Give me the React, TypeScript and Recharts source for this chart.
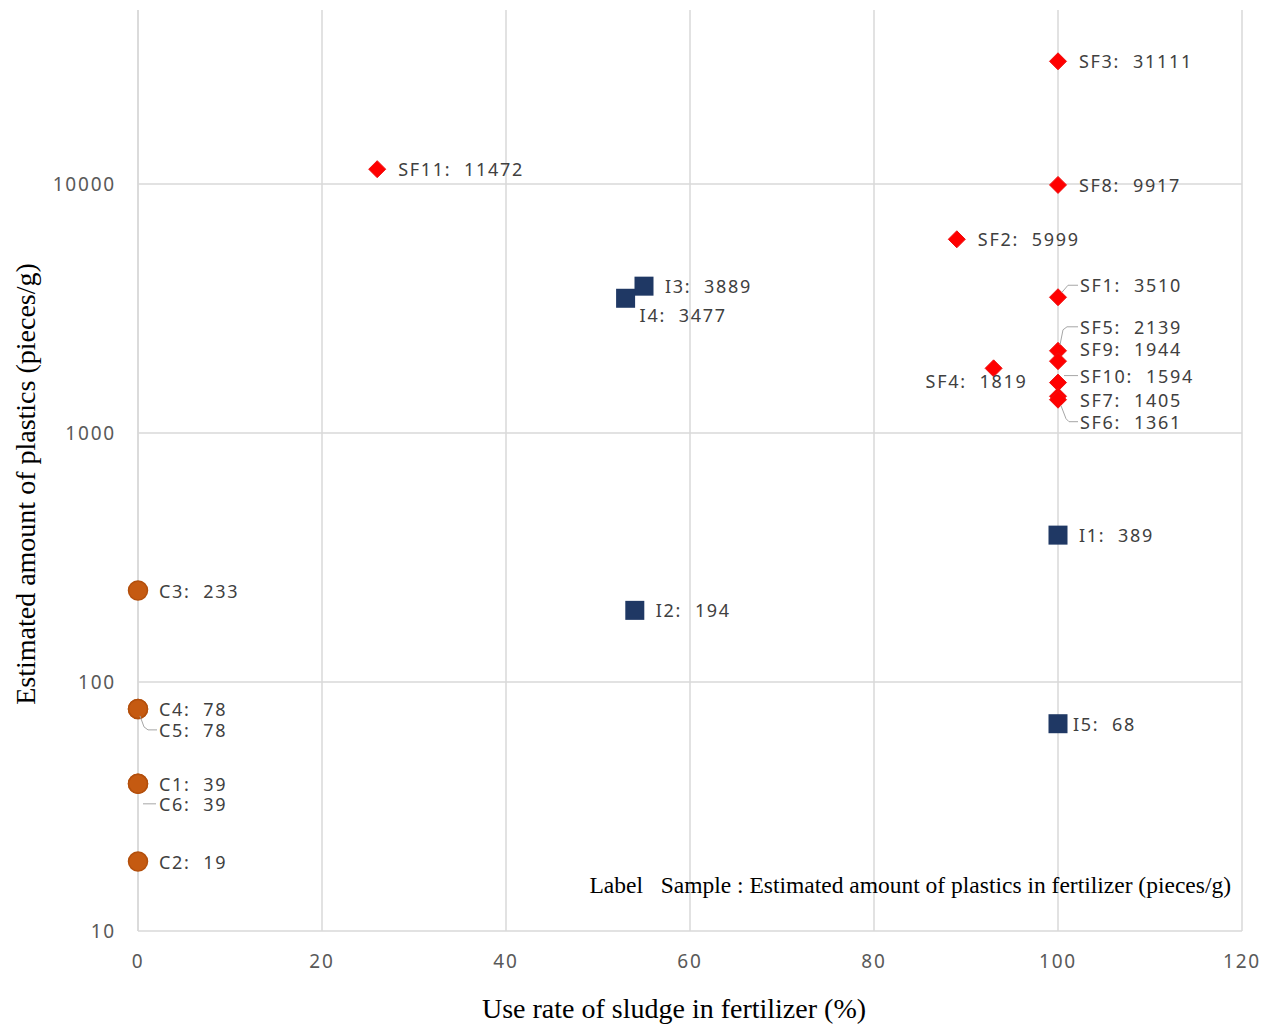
import React from 'react';
import { ScatterChart, Scatter, XAxis, YAxis, CartesianGrid, ReferenceLine } from 'recharts';

// Sewage-sludge fertilizers (SF), industrial (I) and compost (C) samples
const sfNames = ['SF3', 'SF11', 'SF8', 'SF2', 'SF1', 'SF5', 'SF9', 'SF4', 'SF10', 'SF7', 'SF6'];
const sfRate = [100, 26, 100, 89, 100, 100, 100, 93, 100, 100, 100];
const sfAmount = [31111, 11472, 9917, 5999, 3510, 2139, 1944, 1819, 1594, 1405, 1361];

const iNames = ['I3', 'I4', 'I1', 'I2', 'I5'];
const iRate = [55, 53, 100, 54, 100];
const iAmount = [3889, 3477, 389, 194, 68];

const cNames = ['C3', 'C4', 'C5', 'C1', 'C6', 'C2'];
const cRate = [0, 0, 0, 0, 0, 0];
const cAmount = [233, 78, 78, 39, 39, 19];

const xTicks = [0, 20, 40, 60, 80, 100, 120];
const yTicks = [10, 100, 1000, 10000];

type Pt = { name: string; x: number; y: number };
const build = (names: string[], xs: number[], ys: number[]): Pt[] =>
  names.map((name, i) => ({ name, x: xs[i], y: ys[i] }));

const sfData = build(sfNames, sfRate, sfAmount);
const iData = build(iNames, iRate, iAmount);
const cData = build(cNames, cRate, cAmount);

// where each data label sits relative to its marker, plus optional leader lines
type LabelPos = { dx: number; dy: number; leader?: [number, number][] };
const labelPos: Record<string, LabelPos> = {
  SF1: { dx: 22, dy: -12, leader: [[4, -5], [10, -12], [20, -12]] },
  SF5: { dx: 22, dy: -24, leader: [[2, -6], [5, -21], [9, -24], [20, -24]] },
  SF9: { dx: 22, dy: -12 },
  SF10: { dx: 22, dy: -7, leader: [[6, -7], [20, -7]] },
  SF7: { dx: 22, dy: 4 },
  SF6: { dx: 22, dy: 22, leader: [[3, 6], [8, 19], [11, 22], [20, 22]] },
  SF4: { dx: -68, dy: 13 },
  I4: { dx: 14, dy: 17 },
  I5: { dx: 15, dy: 0 },
  C5: { dx: 21, dy: 21, leader: [[2, 7], [6, 18], [10, 21], [19, 21]] },
  C6: { dx: 21, dy: 20, leader: [[5, 20], [18, 20]] },
};

const labelStyle: React.CSSProperties = {
  fontFamily: 'Noto Sans, sans-serif',
  fontSize: 18,
  letterSpacing: 1.7,
  fill: '#404040',
  whiteSpace: 'pre',
};

const DataLabel = ({ cx, cy, p }: { cx: number; cy: number; p: Pt }) => {
  const pos = labelPos[p.name] ?? { dx: 21, dy: 0 };
  return (
    <g>
      {pos.leader && (
        <polyline
          points={pos.leader.map(([a, b]) => `${cx + a},${cy + b}`).join(' ')}
          fill="none"
          stroke="#a6a6a6"
          strokeWidth={1}
        />
      )}
      <text x={cx + pos.dx} y={cy + pos.dy} dominantBaseline="central" style={labelStyle}>
        {`${p.name}:  ${p.y}`}
      </text>
    </g>
  );
};

const Diamond = (props: any) => {
  const { cx, cy, payload } = props;
  const r = 8.5;
  return (
    <g>
      <polygon
        points={`${cx},${cy - r} ${cx + r},${cy} ${cx},${cy + r} ${cx - r},${cy}`}
        fill="#ff0000"
        stroke="#ee1111"
      />
      <DataLabel cx={cx} cy={cy} p={payload} />
    </g>
  );
};

const Square = (props: any) => {
  const { cx, cy, payload } = props;
  const s = 19;
  return (
    <g>
      <rect x={cx - s / 2} y={cy - s / 2} width={s} height={s} fill="#1f3864" />
      <DataLabel cx={cx} cy={cy} p={payload} />
    </g>
  );
};

const Dot = (props: any) => {
  const { cx, cy, payload } = props;
  return (
    <g>
      <circle cx={cx} cy={cy} r={9.5} fill="#c55a11" stroke="#b34f0c" strokeWidth={1.5} />
      <DataLabel cx={cx} cy={cy} p={payload} />
    </g>
  );
};

const tickStyle = { fontFamily: 'Noto Sans, sans-serif', fontSize: 19, letterSpacing: 1.8, fill: '#595959' };
const serif = 'Liberation Serif, Times New Roman, serif';

export default function App() {
  return (
    <div style={{ position: 'absolute', left: 0, top: 0, width: 1271, height: 1025, background: '#fff' }}>
      <ScatterChart width={1271} height={1025} margin={{ top: 10, right: 29, bottom: 54, left: 0 }}>
        <CartesianGrid stroke="#d9d9d9" strokeWidth={1.5} horizontal={false} />
        {yTicks.slice(1).map((t) => (
          <ReferenceLine key={t} y={t} stroke="#d9d9d9" strokeWidth={1.5} />
        ))}
        <XAxis
          type="number"
          dataKey="x"
          domain={[0, 120]}
          ticks={xTicks}
          axisLine={{ stroke: '#d9d9d9', strokeWidth: 1.5 }}
          tickLine={false}
          tick={tickStyle}
          tickMargin={18}
          height={40}
        />
        <YAxis
          type="number"
          dataKey="y"
          scale="log"
          domain={[10, 50000]}
          allowDataOverflow
          ticks={yTicks}
          axisLine={{ stroke: '#d9d9d9', strokeWidth: 1.5 }}
          tickLine={false}
          tick={tickStyle}
          tickMargin={16}
          width={138}
        />
        <Scatter data={sfData} shape={Diamond} isAnimationActive={false} />
        <Scatter data={iData} shape={Square} isAnimationActive={false} />
        <Scatter data={cData} shape={Dot} isAnimationActive={false} />
        <text
          x={25}
          y={484}
          transform="rotate(-90 25 484)"
          textAnchor="middle"
          dominantBaseline="central"
          style={{ fontFamily: serif, fontSize: 28, fill: '#000' }}
        >
          Estimated amount of plastics (pieces/g)
        </text>
        <text
          x={674}
          y={1008}
          textAnchor="middle"
          dominantBaseline="central"
          style={{ fontFamily: serif, fontSize: 28, fill: '#000' }}
        >
          Use rate of sludge in fertilizer (%)
        </text>
        <text
          x={1231}
          y={885}
          textAnchor="end"
          dominantBaseline="central"
          style={{ fontFamily: serif, fontSize: 23.5, fill: '#000', whiteSpace: 'pre' }}
        >
          {'Label   Sample : Estimated amount of plastics in fertilizer (pieces/g)'}
        </text>
      </ScatterChart>
    </div>
  );
}
